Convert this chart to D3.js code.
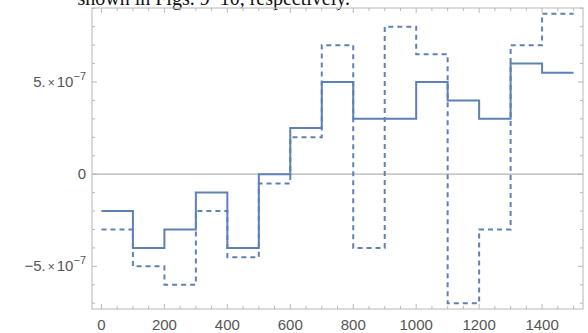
<!DOCTYPE html>
<html>
<head>
<meta charset="utf-8">
<script src="https://cdn.jsdelivr.net/npm/d3@7/dist/d3.min.js"></script>
<style>
  html, body { margin: 0; padding: 0; background: #fff; }
  svg { display: block; }
</style>
</head>
<body>
<svg id="chart" width="588" height="333"></svg>
<script>
// Step boundaries (left edge of each interval) and the two step series, in units of 1e-7
const stepStarts = [0, 100, 200, 300, 400, 500, 600, 700, 800, 900, 1000, 1100, 1200, 1300, 1400];
const solidValues = [-2, -4, -3, -1, -4, 0, 2.5, 5, 3, 3, 5, 4, 3, 6, 5.5];
const dashedValues = [-3, -5, -6, -2, -4.5, -0.5, 2, 7, -4, 8, 6.5, -7, -3, 7, 8.7];
const xEnd = 1500;
const scaleUnit = 1e-7;

const xTicks = [0, 200, 400, 600, 800, 1000, 1200, 1400];
const yTicks = [-5e-7, 0, 5e-7];
const yTickMantissa = ["\u22125.", "0", "5."];

const svg = d3.select("#chart");
const frame = { left: 92, right: 583, top: 8, bottom: 309 };

const x = d3.scaleLinear().domain([-30, 1530]).range([frame.left, frame.right]);
const y = d3.scaleLinear().domain([-7.314e-7, 9.014e-7]).range([frame.bottom, frame.top]);

const frameColor = "#b8b8b8";
const labelColor = "#555";
const lineColor = "#5e81b5";

// Caption line from the surrounding text, clipped by the top edge
svg.append("text")
  .attr("x", 350).attr("y", 5)
  .attr("text-anchor", "end")
  .attr("font-family", "'Liberation Serif', 'DejaVu Serif', serif")
  .attr("font-size", 20)
  .attr("fill", "#111")
  .text("shown in Figs. 9\u201310, respectively.");

// Zero axis
svg.append("line")
  .attr("x1", frame.left).attr("x2", frame.right)
  .attr("y1", y(0)).attr("y2", y(0))
  .attr("stroke", "#b3b3b3").attr("stroke-width", 1.2);

// Frame
svg.append("rect")
  .attr("x", frame.left).attr("y", frame.top)
  .attr("width", frame.right - frame.left).attr("height", frame.bottom - frame.top)
  .attr("fill", "none").attr("stroke", frameColor).attr("stroke-width", 1);

// Frame ticks (inward), major + minor on all four sides
const xMinor = d3.range(0, 1501, 50).filter(v => v % 200 !== 0);
const yMinor = d3.range(-7, 10, 1).map(v => v * 1e-7).filter(v => Math.abs(v % 5e-7) > 1e-9);
const tickG = svg.append("g").attr("stroke", frameColor).attr("stroke-width", 1);
function xTick(v, len) {
  tickG.append("line").attr("x1", x(v)).attr("x2", x(v)).attr("y1", frame.bottom).attr("y2", frame.bottom - len);
  tickG.append("line").attr("x1", x(v)).attr("x2", x(v)).attr("y1", frame.top).attr("y2", frame.top + len);
}
function yTick(v, len) {
  tickG.append("line").attr("y1", y(v)).attr("y2", y(v)).attr("x1", frame.left).attr("x2", frame.left + len);
  tickG.append("line").attr("y1", y(v)).attr("y2", y(v)).attr("x1", frame.right).attr("x2", frame.right - len);
}
xTicks.forEach(v => xTick(v, 5));
xMinor.forEach(v => xTick(v, 3));
yTicks.forEach(v => yTick(v, 5));
yMinor.forEach(v => yTick(v, 3));

// X tick labels
svg.append("g").selectAll("text").data(xTicks).join("text")
  .attr("x", d => x(d)).attr("y", 330)
  .attr("text-anchor", "middle")
  .attr("font-family", "'Liberation Sans', Arial, sans-serif")
  .attr("font-size", 15)
  .attr("fill", labelColor)
  .text(d => d);

// Y tick labels in "m. × 10^-7" form
const yl = svg.append("g")
  .attr("font-family", "'Liberation Sans', Arial, sans-serif")
  .attr("fill", labelColor);
yTicks.forEach((v, i) => {
  const t = yl.append("text")
    .attr("x", 86).attr("y", y(v) + 5)
    .attr("text-anchor", "end")
    .attr("font-size", 15);
  if (v === 0) {
    t.text("0");
  } else {
    t.append("tspan").text(yTickMantissa[i]);
    t.append("tspan").attr("font-size", 12).attr("dx", 2).text("\u00d7");
    t.append("tspan").attr("dx", 2).text("10");
    t.append("tspan").attr("font-size", 11).attr("dy", -7).text("\u22127");
  }
});

// Step series
function stepPoints(vals) {
  const pts = stepStarts.map((s, i) => [s, vals[i] * scaleUnit]);
  pts.push([xEnd, vals[vals.length - 1] * scaleUnit]);
  return pts;
}
const line = d3.line().x(d => x(d[0])).y(d => y(d[1])).curve(d3.curveStepAfter);

svg.append("path")
  .attr("d", line(stepPoints(dashedValues)))
  .attr("fill", "none")
  .attr("stroke", lineColor)
  .attr("stroke-width", 2)
  .attr("stroke-dasharray", "5,4");

svg.append("path")
  .attr("d", line(stepPoints(solidValues)))
  .attr("fill", "none")
  .attr("stroke", lineColor)
  .attr("stroke-width", 2);
</script>
</body>
</html>
